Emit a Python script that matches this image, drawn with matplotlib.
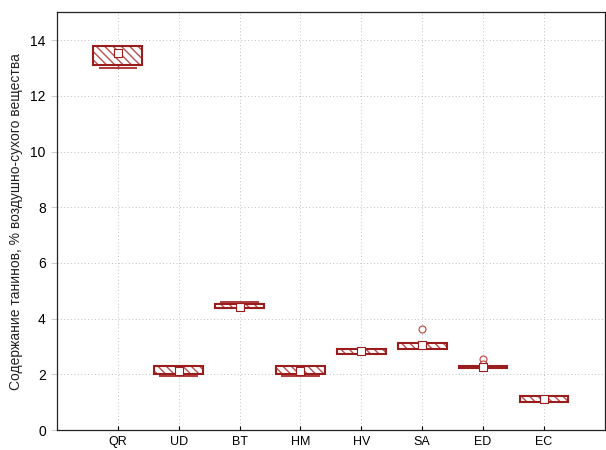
import matplotlib
matplotlib.use("Agg")
import matplotlib.pyplot as plt

plt.rcParams["font.family"] = ["Liberation Sans", "DejaVu Sans"]

# tannin content per species: median, quartiles, whisker range, outliers
species = ["QR", "UD", "BT", "HM", "HV", "SA", "ED", "EC"]
medians = [13.53, 2.13, 4.43, 2.13, 2.84, 3.05, 2.27, 1.11]
q1 = [13.10, 2.03, 4.38, 2.03, 2.73, 2.92, 2.23, 1.00]
q3 = [13.77, 2.32, 4.52, 2.32, 2.91, 3.12, 2.32, 1.22]
whis_lo = [13.00, 1.93, 4.38, 1.93, 2.73, 2.92, 2.23, 1.00]
whis_hi = [13.77, 2.32, 4.59, 2.32, 2.91, 3.12, 2.32, 1.22]
outliers = [[], [], [], [], [], [3.63], [2.55, 2.38], []]

dark = "#9b1c1c"
light = "#b85050"

stats = []
for name, med, a, b, lo, hi, fl in zip(species, medians, q1, q3, whis_lo, whis_hi, outliers):
    stats.append(dict(label=name, med=med, q1=a, q3=b, whislo=lo, whishi=hi, fliers=fl))

fig = plt.figure(figsize=(6.06, 4.5), dpi=100)
ax = fig.add_axes([0.094, 0.044, 0.904, 0.929])

pos = list(range(1, len(species) + 1))

# hatched fill drawn first in a lighter red, outline on top
ax.bxp(stats, positions=pos, widths=0.8, capwidths=0.6, patch_artist=True,
       showfliers=True,
       boxprops=dict(facecolor="white", edgecolor=light, hatch="\\\\\\\\", linewidth=0),
       whiskerprops=dict(color="#b03a3a", linewidth=1.0),
       capprops=dict(color="#b03a3a", linewidth=1.4),
       medianprops=dict(linewidth=0),
       flierprops=dict(marker="o", markersize=5, markerfacecolor="white",
                       markeredgecolor="#c04040", markeredgewidth=0.8),
       zorder=3)
ax.bxp(stats, positions=pos, widths=0.8, showcaps=False, showfliers=False,
       patch_artist=True,
       boxprops=dict(facecolor="none", edgecolor=dark, linewidth=1.5),
       whiskerprops=dict(linewidth=0),
       medianprops=dict(linewidth=0),
       zorder=4)

ax.scatter(pos, medians, marker="s", s=30, facecolor="white", edgecolor=dark,
           linewidth=0.8, zorder=5)

ax.set_xlim(0, len(species) + 1)
ax.set_ylim(0, 15)
ax.set_xticks(pos)
ax.set_xticklabels(species)
ax.set_yticks(range(0, 15, 2))

ax.grid(True, color="#c0c0c0", linestyle=(0, (1, 2.5)), linewidth=0.7)
ax.set_axisbelow(True)

ax.tick_params(axis="x", direction="in", length=3, width=0.8, labelsize=9, pad=4)
ax.tick_params(axis="y", direction="out", length=4, width=0.5, color="#bbbbbb",
               labelsize=10, pad=4)
for s in ax.spines.values():
    s.set_linewidth(0.9)
    s.set_color("#222222")

ax.set_ylabel("Содержание танинов, % воздушно-сухого вещества", fontsize=10,
              color="#222222", labelpad=5)

fig.savefig("out.png", dpi=100)
